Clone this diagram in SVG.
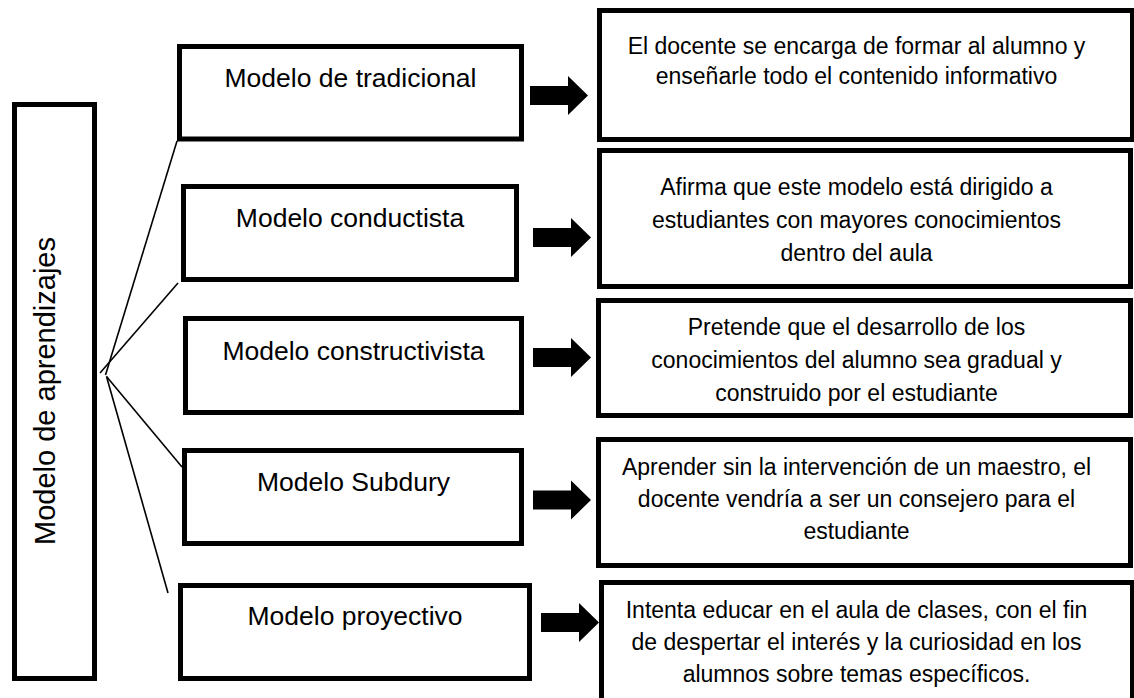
<svg xmlns="http://www.w3.org/2000/svg" width="1134" height="698" viewBox="0 0 1134 698">
<style>
.box{fill:#fff;stroke:#000;stroke-width:5}
.t1{font-family:"Liberation Sans",Arial,sans-serif;font-size:26.5px;fill:#000;text-anchor:middle}
.t0{font-family:"Liberation Sans",Arial,sans-serif;font-size:29px;fill:#000;text-anchor:middle}
.t2{font-family:"Liberation Sans",Arial,sans-serif;font-size:23px;fill:#000;text-anchor:middle}
.ln{stroke:#000;stroke-width:1.6;fill:none}
.ar{fill:#000}
</style>
<defs>
<path id="arrow" d="M-58,-9.5 L-20,-9.5 L-20,-19.5 L0,0 L-20,19.5 L-20,9.5 L-58,9.5 Z"/>
</defs>
<rect width="1134" height="698" fill="#fff"/>
<g id="connectors">
<line class="ln" x1="177" y1="141" x2="105.5" y2="375"/>
<line class="ln" x1="178" y1="283" x2="100" y2="373"/>
<line class="ln" x1="106.5" y1="376.5" x2="182" y2="467"/>
<line class="ln" x1="106.5" y1="376.5" x2="168" y2="593"/>
<use class="ar" href="#arrow" x="588" y="95.5"/>
<use class="ar" href="#arrow" x="591" y="237.5"/>
<use class="ar" href="#arrow" x="591" y="357.5"/>
<use class="ar" href="#arrow" x="591" y="500"/>
<use class="ar" href="#arrow" x="599" y="622.5"/>
</g>
<g id="root">
<rect class="box" x="14.5" y="104.5" width="80" height="574"/>
<text class="t0" transform="translate(54.5,391) rotate(-90)" x="0" y="0">Modelo de aprendizajes</text>
</g>
<g id="m1">
<rect class="box" x="179.5" y="46.5" width="342" height="92.5"/>
<text class="t1" x="350.5" y="87">Modelo de tradicional</text>
</g>
<g id="m2">
<rect class="box" x="183.5" y="186.5" width="333" height="93"/>
<text class="t1" x="350" y="226.5">Modelo conductista</text>
</g>
<g id="m3">
<rect class="box" x="185.5" y="318.5" width="336" height="94"/>
<text class="t1" x="353.5" y="360">Modelo constructivista</text>
</g>
<g id="m4">
<rect class="box" x="184.5" y="450.5" width="337" height="93"/>
<text class="t1" x="353.5" y="490.5">Modelo Subdury</text>
</g>
<g id="m5">
<rect class="box" x="180.5" y="585.5" width="349" height="93"/>
<text class="t1" x="355" y="625">Modelo proyectivo</text>
</g>
<g id="d1">
<rect class="box" x="599.5" y="10.5" width="533" height="129"/>
<text class="t2" x="856.5" y="54">El docente se encarga de formar al alumno y</text>
<text class="t2" x="856.5" y="84">enseñarle todo el contenido informativo</text>
</g>
<g id="d2">
<rect class="box" x="599.5" y="150.5" width="531" height="136"/>
<text class="t2" x="856.5" y="195">Afirma que este modelo está dirigido a</text>
<text class="t2" x="856.5" y="228">estudiantes con mayores conocimientos</text>
<text class="t2" x="856.5" y="261">dentro del aula</text>
</g>
<g id="d3">
<rect class="box" x="598.5" y="300.5" width="532" height="115"/>
<text class="t2" x="856.5" y="335">Pretende que el desarrollo de los</text>
<text class="t2" x="856.5" y="368">conocimientos del alumno sea gradual y</text>
<text class="t2" x="856.5" y="401">construido por el estudiante</text>
</g>
<g id="d4">
<rect class="box" x="598.5" y="439.5" width="532" height="126"/>
<text class="t2" x="856.5" y="475">Aprender sin la intervención de un maestro, el</text>
<text class="t2" x="856.5" y="507">docente vendría a ser un consejero para el</text>
<text class="t2" x="856.5" y="539">estudiante</text>
</g>
<g id="d5">
<rect class="box" x="601.5" y="582.5" width="531" height="125"/>
<text class="t2" x="856.5" y="618">Intenta educar en el aula de clases, con el fin</text>
<text class="t2" x="856.5" y="650">de despertar el interés y la curiosidad en los</text>
<text class="t2" x="856.5" y="682">alumnos sobre temas específicos.</text>
</g>
</svg>
